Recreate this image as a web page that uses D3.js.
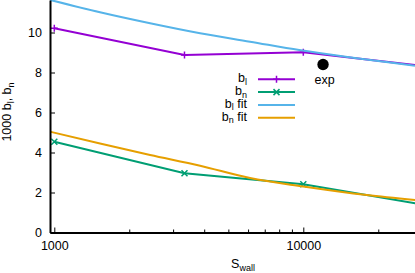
<!DOCTYPE html>
<html>
<head>
<meta charset="utf-8">
<script src="https://cdn.jsdelivr.net/npm/d3@7"></script>
<style>
  body { margin: 0; background: #fff; }
  text { font-family: "Liberation Sans", Arial, sans-serif; fill: #000; }
</style>
</head>
<body>
<svg id="chart" width="415" height="273"></svg>
<script>
// simulation points
const sizes = [1000, 3333, 10000, 30000];
const blValues = [10.21, 8.87, 9.01, 8.33];
const bnValues = [4.54, 2.96, 2.41, 1.40];

// fit curves
const blFitSizes = [961, 1526, 2425, 3851, 6110, 9630, 28090];
const blFitValues = [11.63, 11.01, 10.46, 9.96, 9.54, 9.12, 8.34];
const bnFitSizes = [961, 1526, 2425, 3851, 6110, 10000, 18000, 28090];
const bnFitValues = [5.04, 4.45, 3.88, 3.34, 2.72, 2.30, 1.87, 1.62];

// experimental value
const expSize = 12000;
const expValue = 8.4;

const xMajorTicks = [1000, 10000];
const xMinorTicks = [2000, 3000, 4000, 5000, 6000, 7000, 8000, 9000, 20000];
const yTicks = [0, 2, 4, 6, 8, 10];

const colors = { bl: "#9400d3", bn: "#009e73", blFit: "#56b4e9", bnFit: "#e69f00" };

const margin = { top: 0, right: 0, bottom: 40.5, left: 50 },
      width = 415 - margin.left - margin.right,
      height = 273 - margin.top - margin.bottom;

const svg = d3.select("#chart");
const g = svg.append("g")
    .attr("transform", "translate(" + margin.left + "," + margin.top + ")");

const x = d3.scaleLog().domain([961, 28090]).range([0, width]);
const y = d3.scaleLinear().domain([0, 11.625]).range([height, 0]);

g.append("clipPath").attr("id", "plot-clip")
  .append("rect").attr("width", width).attr("height", height);

const plot = g.append("g").attr("clip-path", "url(#plot-clip)");

const line = d3.line().x(d => x(d[0])).y(d => y(d[1]));
const smooth = d3.line().x(d => x(d[0])).y(d => y(d[1])).curve(d3.curveMonotoneX);

const blData = d3.zip(sizes, blValues);
const bnData = d3.zip(sizes, bnValues);

const plusPath = "M-3.5,0H3.5M0,-3.5V3.5";
const crossPath = "M-3,-3L3,3M-3,3L3,-3";

// b_l
plot.append("path").datum(blData)
  .attr("fill", "none").attr("stroke", colors.bl).attr("stroke-width", 2)
  .attr("d", line);
plot.selectAll(".bl-pt").data(blData).enter().append("path")
  .attr("class", "bl-pt")
  .attr("transform", d => "translate(" + x(d[0]) + "," + y(d[1]) + ")")
  .attr("d", plusPath).attr("stroke", colors.bl).attr("stroke-width", 1.5);

// b_n
plot.append("path").datum(bnData)
  .attr("fill", "none").attr("stroke", colors.bn).attr("stroke-width", 2)
  .attr("d", line);
plot.selectAll(".bn-pt").data(bnData).enter().append("path")
  .attr("class", "bn-pt")
  .attr("transform", d => "translate(" + x(d[0]) + "," + y(d[1]) + ")")
  .attr("d", crossPath).attr("stroke", colors.bn).attr("stroke-width", 1.5);

// fits
plot.append("path").datum(d3.zip(blFitSizes, blFitValues))
  .attr("fill", "none").attr("stroke", colors.blFit).attr("stroke-width", 2)
  .attr("d", smooth);
plot.append("path").datum(d3.zip(bnFitSizes, bnFitValues))
  .attr("fill", "none").attr("stroke", colors.bnFit).attr("stroke-width", 2)
  .attr("d", smooth);

// experimental point
plot.append("circle")
  .attr("cx", x(expSize)).attr("cy", y(expValue)).attr("r", 5.7)
  .attr("fill", "#000");
g.append("text")
  .attr("x", x(expSize) + 1.5).attr("y", y(expValue) + 19.5)
  .attr("text-anchor", "middle").style("font-size", "12.5px")
  .text("exp");

// axes
const xAxis = g.append("g")
  .attr("transform", "translate(0," + height + ")")
  .call(d3.axisBottom(x).tickValues(xMajorTicks).tickSizeInner(-5)
        .tickSizeOuter(0).tickPadding(9).tickFormat(d3.format("d")));
const xMinor = g.append("g")
  .attr("transform", "translate(0," + height + ")")
  .call(d3.axisBottom(x).tickValues(xMinorTicks).tickSizeInner(-3)
        .tickSizeOuter(0).tickFormat(""));
xMinor.select(".domain").remove();

const yAxis = g.append("g")
  .call(d3.axisLeft(y).tickValues(yTicks).tickSizeInner(-5)
        .tickSizeOuter(0).tickPadding(8));

[xAxis, xMinor, yAxis].forEach(a => {
  a.selectAll(".domain").attr("stroke", "#000").attr("stroke-width", 2);
  a.selectAll(".tick line").attr("stroke", "#000").attr("stroke-width", 1);
  a.selectAll("text").style("font-size", "12.5px")
    .style("font-family", "'Liberation Sans', Arial, sans-serif");
});

// axis titles
const xTitle = svg.append("text")
  .attr("x", 243).attr("y", 268)
  .attr("text-anchor", "middle").style("font-size", "12.5px");
xTitle.append("tspan").text("S");
xTitle.append("tspan").attr("dy", 2.5).style("font-size", "9px").text("wall");

const yTitle = svg.append("text")
  .attr("transform", "translate(11,112) rotate(-90)")
  .attr("text-anchor", "middle").style("font-size", "12.5px");
yTitle.append("tspan").text("1000 b");
yTitle.append("tspan").attr("dy", 3).style("font-size", "9px").text("l");
yTitle.append("tspan").attr("dy", -3).text(", b");
yTitle.append("tspan").attr("dy", 3).style("font-size", "9px").text("n");

// legend
const legendItems = [
  { sub: "l", fit: false, color: colors.bl, marker: plusPath },
  { sub: "n", fit: false, color: colors.bn, marker: crossPath },
  { sub: "l", fit: true, color: colors.blFit, marker: null },
  { sub: "n", fit: true, color: colors.bnFit, marker: null }
];
const legend = svg.append("g");
legendItems.forEach((item, i) => {
  const ly = 79.3 + i * 12.8;
  const t = legend.append("text")
    .attr("x", 247).attr("y", ly + 3)
    .attr("text-anchor", "end").style("font-size", "12.5px");
  t.append("tspan").text("b");
  t.append("tspan").attr("dy", 2.5).style("font-size", "9px").text(item.sub);
  if (item.fit) t.append("tspan").attr("dy", -2.5).text(" fit");
  legend.append("line")
    .attr("x1", 258).attr("x2", 295).attr("y1", ly).attr("y2", ly)
    .attr("stroke", item.color).attr("stroke-width", 2);
  if (item.marker) {
    legend.append("path")
      .attr("transform", "translate(" + 276.5 + "," + ly + ")")
      .attr("d", item.marker).attr("stroke", item.color).attr("stroke-width", 1.5);
  }
});
</script>
</body>
</html>
